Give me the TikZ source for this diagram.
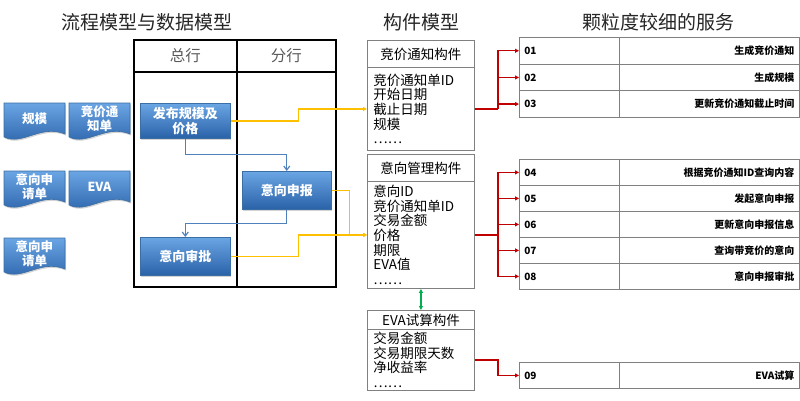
\documentclass[tikz,border=0pt]{standalone}
\usepackage{fontspec}
\setmainfont{Noto Sans CJK SC}
\usetikzlibrary{arrows.meta,shadows,calc}
\definecolor{proctop}{HTML}{6AA5E4}
\definecolor{procbot}{HTML}{2A62A8}
\definecolor{procborder}{HTML}{3A6EA5}
\definecolor{flowblue}{HTML}{4F81BD}
\definecolor{yel}{HTML}{FFC000}
\definecolor{redc}{HTML}{C00000}
\definecolor{greenc}{HTML}{00B050}
\definecolor{graybd}{HTML}{808080}
\definecolor{lanetext}{HTML}{595959}
\definecolor{titletext}{HTML}{262626}
\newcommand\docshape[6]{%
  \shadedraw[docstyle] (#2,#3) -- (#2+#4,#3) -- (#2+#4,#3+#5-3)
    .. controls (#2+0.6*#4,#3+#5-13) and (#2+0.3*#4,#3+#5+9) .. (#2,#3+#5) -- cycle;
  \node[doctext] (#1) at (#2+0.5*#4,#3+0.5*#5-1.5) {#6};
}
\newcommand\svcrow[5]{%
  \node[svcnum, minimum height=#3] (s#1a) at (519,#2) {#4};
  \node[svclab, minimum height=#3] (s#1b) at (619,#2) {#5};
}
\begin{document}
\begin{tikzpicture}[x=1pt,y=-1pt,
  title/.style={font=\fontsize{19}{22}\selectfont, text=titletext},
  lanehead/.style={draw=black, line width=1.5pt, anchor=north west, inner sep=0pt,
    font=\fontsize{15.5}{17}\selectfont, text=lanetext},
  lanebody/.style={draw=black, line width=1.5pt, anchor=north west, inner sep=0pt},
  procbox/.style={draw=procborder, line width=0.6pt, top color=proctop, bottom color=procbot,
    text=white, font=\bfseries\fontsize{13}{15}\selectfont, align=center, inner sep=0pt,
    anchor=north west, drop shadow={shadow xshift=1pt, shadow yshift=-1.5pt, opacity=0.35}},
  docstyle/.style={draw=procborder, line width=0.6pt, top color=proctop, bottom color=procbot,
    drop shadow={shadow xshift=1pt, shadow yshift=-1.5pt, opacity=0.35}},
  doctext/.style={text=white, font=\bfseries\fontsize{12.5}{14}\selectfont, align=center, inner sep=0pt},
  comphead/.style={draw=graybd, line width=0.9pt, anchor=north west, inner sep=0pt,
    minimum width=107pt, font=\fontsize{13.5}{15}\selectfont},
  compbody/.style={draw=graybd, line width=0.9pt, anchor=north west, inner xsep=6pt, inner ysep=0pt,
    minimum width=107pt, text width=95pt, align=left, font=\fontsize{13.5}{14.7}\selectfont},
  svcnum/.style={draw=graybd, line width=0.8pt, anchor=north west, inner xsep=5pt, inner ysep=0pt,
    text width=90pt, align=left, font=\bfseries\fontsize{10}{12}\selectfont},
  svclab/.style={draw=graybd, line width=0.8pt, anchor=north west, inner xsep=5pt, inner ysep=0pt,
    text width=170pt, align=right, font=\bfseries\fontsize{10}{12}\selectfont},
  bluearr/.style={draw=flowblue, line width=1.2pt, -{Straight Barb[length=4pt,width=6pt]}},
  yelarr/.style={draw=yel, line width=1.5pt, -{Triangle[length=4pt,width=4pt]}},
  redline/.style={draw=redc, line width=1.3pt},
  redarr/.style={draw=redc, line width=1.3pt, -{Triangle[length=4pt,width=4pt]}},
  greenarr/.style={draw=greenc, line width=1.3pt, {Triangle[length=4pt,width=4pt]}-{Triangle[length=4pt,width=4pt]}}
]
\useasboundingbox (0,0) rectangle (800,400);

% titles
\node[title] (t1) at (147,22) {流程模型与数据模型};
\node[title] (t2) at (421,22) {构件模型};
\node[title] (t3) at (658,22) {颗粒度较细的服务};

% swimlanes
\node[lanehead, minimum width=103pt, minimum height=32pt] (hz) at (133,39) {总行};
\node[lanehead, minimum width=99pt, minimum height=32pt] (hf) at (236,39) {分行};
\node[lanebody, minimum width=103pt, minimum height=215pt] (lz) at (133,71) {};
\node[lanebody, minimum width=99pt, minimum height=215pt] (lf) at (236,71) {};

% process boxes
\node[procbox, minimum width=90pt, minimum height=35pt] (fb) at (140,103) {发布规模及\\价格};
\node[procbox, minimum width=89pt, minimum height=38pt] (ysb) at (242,171) {意向申报};
\node[procbox, minimum width=90pt, minimum height=38pt] (ysp) at (140,237) {意向审批};

% documents
\docshape{d1}{4}{103}{61}{34}{规模}
\docshape{d2}{69}{103}{61}{34}{竞价通\\知单}
\docshape{d3}{4}{171}{61}{34}{意向申\\请单}
\docshape{d4}{69}{171}{61}{34}{EVA}
\docshape{d5}{4}{238}{61}{34}{意向申\\请单}

% components
\node[comphead, minimum height=27pt] (c1h) at (367,40) {竞价通知构件};
\node[compbody, minimum height=83pt] (c1b) at (367,67) {竞价通知单ID\\开始日期\\截止日期\\规模\\……};
\node[comphead, minimum height=27pt] (c2h) at (367,154) {意向管理构件};
\node[compbody, minimum height=107pt] (c2b) at (367,181) {意向ID\\竞价通知单ID\\交易金额\\价格\\期限\\EVA值\\……};
\node[comphead, minimum height=19pt] (c3h) at (367,310) {EVA试算构件};
\node[compbody, minimum height=61pt] (c3b) at (367,329) {交易金额\\交易期限天数\\净收益率\\……};

% services
\svcrow{01}{37}{26.7pt}{01}{生成竞价通知}
\svcrow{02}{63.7}{26.7pt}{02}{生成规模}
\svcrow{03}{90.3}{26.7pt}{03}{更新竞价通知截止时间}
\svcrow{04}{159}{26pt}{04}{根据竞价通知ID查询内容}
\svcrow{05}{185}{26pt}{05}{发起意向申报}
\svcrow{06}{211}{26pt}{06}{更新意向申报信息}
\svcrow{07}{237}{26pt}{07}{查询带竞价的意向}
\svcrow{08}{263}{26pt}{08}{意向申报审批}
\svcrow{09}{362}{26pt}{09}{EVA试算}

% blue flow
\draw[bluearr] (fb.south) -- ++(0,16) -| (ysb.north);
\draw[bluearr] (ysb.south) -- ++(0,14) -| (ysp.north);

% yellow
\draw[yelarr] (fb.east) -- ++(68,0) |- (c1b.west);
\draw[yelarr] (ysb.east) -- ++(18,0) |- (c2b.west);
\draw[yelarr] (ysp.east) -- ++(68,0) |- (c2b.west);

% green
\draw[greenarr] (c2b.south) -- (c3h.north);

% red
\draw[redline] (c1b.east) -- ++(23,0) coordinate (r1);
\draw[redarr] (r1) |- (s01a.west);
\draw[redarr] (r1) |- (s02a.west);
\draw[redarr] (r1) |- (s03a.west);
\draw[redline] (c2b.east) -- ++(23,0) coordinate (r2);
\draw[redarr] (r2) |- (s04a.west);
\draw[redarr] (r2) |- (s05a.west);
\draw[redarr] (r2) |- (s06a.west);
\draw[redarr] (r2) |- (s07a.west);
\draw[redarr] (r2) |- (s08a.west);
\draw[redarr] (c3b.east) -- ++(23,0) |- (s09a.west);
\end{tikzpicture}
\end{document}
